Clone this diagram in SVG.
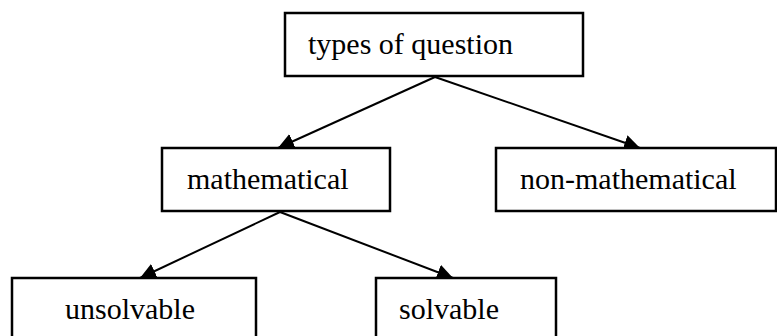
<svg xmlns="http://www.w3.org/2000/svg" width="777" height="336" viewBox="0 0 777 336">
<style>
.box{fill:#fff;stroke:#000;stroke-width:2.5}
.lbl{font-family:"Liberation Serif","Times New Roman",serif;font-size:30px;fill:#000}
.edge{stroke:#000;stroke-width:2;fill:none;marker-end:url(#arr)}
</style>
<defs>
<marker id="arr" markerUnits="userSpaceOnUse" markerWidth="18" markerHeight="16" refX="16" refY="8" orient="auto">
<path d="M0,0 L16,8 L0,16 Z" fill="#000"/>
</marker>
</defs>
<rect width="777" height="336" fill="#fff"/>
<g id="edges">
<line class="edge" x1="435" y1="77" x2="278" y2="148"/>
<line class="edge" x1="435" y1="77" x2="640" y2="148"/>
<line class="edge" x1="280" y1="212" x2="140" y2="278"/>
<line class="edge" x1="280" y1="212" x2="453" y2="278"/>
</g>
<g id="n-types">
<rect class="box" x="285" y="13" width="298" height="63"/>
<text class="lbl" x="308" y="54">types of question</text>
</g>
<g id="n-math">
<rect class="box" x="162" y="148" width="228" height="63"/>
<text class="lbl" x="187" y="189">mathematical</text>
</g>
<g id="n-nonmath">
<rect class="box" x="496" y="148" width="280" height="63"/>
<text class="lbl" x="520" y="189">non-mathematical</text>
</g>
<g id="n-unsolvable">
<rect class="box" x="12" y="278" width="244" height="70"/>
<text class="lbl" x="65" y="319">unsolvable</text>
</g>
<g id="n-solvable">
<rect class="box" x="376" y="278" width="180" height="70"/>
<text class="lbl" x="399" y="319">solvable</text>
</g>
</svg>
